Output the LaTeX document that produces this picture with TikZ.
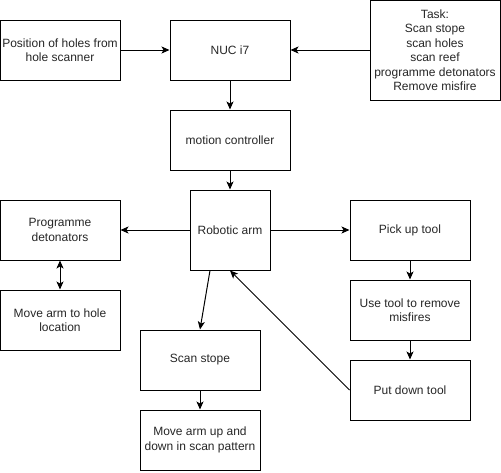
\documentclass[tikz,border=0pt]{standalone}
\usepackage{fontspec}
\setmainfont{Liberation Sans}
\usetikzlibrary{arrows.meta}
\begin{document}
\begin{tikzpicture}[x=1pt,y=-1pt,>={Stealth[length=8pt,width=7pt,inset=2pt]},
  blk/.style={draw,line width=1pt,minimum width=120pt,minimum height=60pt,inner sep=0pt,
    align=center,text=black!85,font=\fontsize{12}{14.5}\selectfont},
  arr/.style={line width=1pt,->}]
\useasboundingbox (0,0) rectangle (501,472);
% top row
\node[blk] (holes) at (60,50) {Position of holes from\\hole scanner};
\node[blk] (nuc) at (230,50) {NUC i7};
\node[blk,minimum width=130pt,minimum height=100pt] (task) at (435,50)
  {Task:\\Scan stope\\scan holes\\scan reef\\programme detonators\\Remove misfire};
\node[blk] (motion) at (230,140) {motion controller};
% arm and branches
\node[blk,minimum width=80pt,minimum height=80pt] (arm) at (230,230) {Robotic arm};
\node[blk] (prog) at (60,230) {Programme\\detonators};
\node[blk] (hole) at (60,320) {Move arm to hole\\location};
\node[blk] (pick) at (410,230) {Pick up tool};
\node[blk] (use) at (410,310) {Use tool to remove\\misfires};
\node[blk] (put) at (410,390) {Put down tool};
\node[blk] (scan) at (200,360) {Scan stope};
\node[blk] (updown) at (200,440) {Move arm up and\\down in scan pattern};
% connectors
\draw[arr] (holes) -- (nuc);
\draw[arr] (task) -- (nuc);
\draw[arr] (nuc) -- (motion);
\draw[arr] (motion) -- (arm);
\draw[arr] (arm) -- (prog);
\draw[arr] (arm) -- (pick);
\draw[arr,<->] (prog) -- (hole);
\draw[arr] (pick) -- (use);
\draw[arr] (use) -- (put);
\draw[arr] ([xshift=-20pt]arm.south) -- (scan.north);
\draw[arr] (put.west) -- (arm.south);
\draw[arr] (scan) -- (updown);
\end{tikzpicture}
\end{document}
